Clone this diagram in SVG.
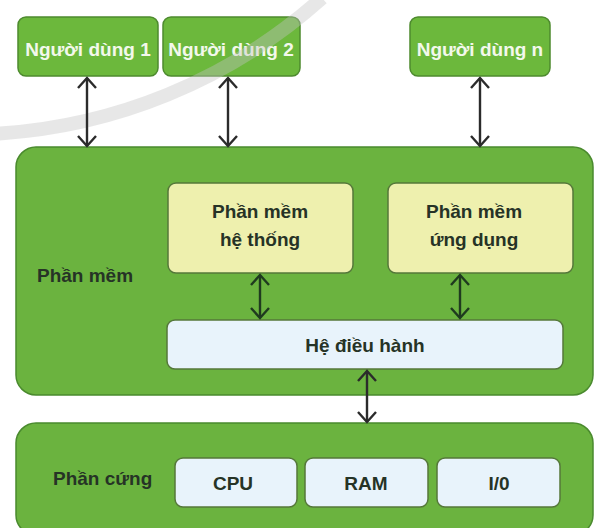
<svg xmlns="http://www.w3.org/2000/svg" width="595" height="528" viewBox="0 0 595 528">
<style>
.user{fill:#6cb83c;stroke:#4d8a2e;stroke-width:1.5}
.big{fill:#6bb33f;stroke:#4a8a2e;stroke-width:1.5}
.soft{fill:#eef0ae;stroke:#55783a;stroke-width:1.5}
.blue{fill:#e8f3fb;stroke:#55783a;stroke-width:1.5}
text{font-family:"Liberation Sans",Arial,sans-serif;font-weight:bold;font-size:19px;text-anchor:middle}
.wt{fill:#f3f8ec}
.dk{fill:#263326}
.lbl{text-anchor:start}
.con{fill:none;stroke:#2b2b2b;stroke-width:2.4}
.con2{fill:none;stroke:#1f3a1f;stroke-width:2.4}
</style>
<defs>
<marker id="ah" viewBox="0 0 20 20" refX="18" refY="10" markerWidth="20" markerHeight="20" markerUnits="userSpaceOnUse" orient="auto-start-reverse">
<path d="M8,1 L18,10 L8,19" fill="none" stroke="#2b2b2b" stroke-width="2.4"/>
</marker>
<marker id="ah2" viewBox="0 0 20 20" refX="18" refY="10" markerWidth="20" markerHeight="20" markerUnits="userSpaceOnUse" orient="auto-start-reverse">
<path d="M8,1 L18,10 L8,19" fill="none" stroke="#1f3a1f" stroke-width="2.4"/>
</marker>
</defs>
<rect width="595" height="528" fill="#ffffff"/>

<g id="phan-mem">
<rect class="big" x="16" y="147" width="577" height="248" rx="20"/>
<text class="dk lbl" x="37" y="282">Phần mềm</text>
</g>
<g id="phan-cung">
<rect class="big" x="16" y="423" width="577" height="112" rx="20"/>
<text class="dk lbl" x="53" y="485">Phần cứng</text>
</g>

<g id="nguoi-dung-1">
<rect class="user" x="18" y="17" width="140" height="59" rx="8"/>
<text class="wt" x="88" y="56">Người dùng 1</text>
</g>
<g id="nguoi-dung-2">
<rect class="user" x="163" y="17" width="137" height="59" rx="8"/>
<text class="wt" x="231" y="56">Người dùng 2</text>
</g>
<g id="nguoi-dung-n">
<rect class="user" x="410" y="17" width="140" height="59" rx="8"/>
<text class="wt" x="480" y="56">Người dùng n</text>
</g>

<path d="M -10 134 A 536 536 0 0 0 322 -2" fill="none" stroke="#c4c4c4" stroke-width="14" opacity="0.4"/>

<g id="pm-he-thong">
<rect class="soft" x="168" y="183" width="185" height="90" rx="8"/>
<text class="dk" x="260" y="218">Phần mềm</text>
<text class="dk" x="260" y="246">hệ thống</text>
</g>
<g id="pm-ung-dung">
<rect class="soft" x="388" y="183" width="185" height="90" rx="8"/>
<text class="dk" x="474" y="218">Phần mềm</text>
<text class="dk" x="474" y="246">ứng dụng</text>
</g>
<g id="he-dieu-hanh">
<rect class="blue" x="167" y="320" width="396" height="49" rx="8"/>
<text class="dk" x="365" y="352">Hệ điều hành</text>
</g>

<g id="cpu">
<rect class="blue" x="175" y="458" width="122" height="49" rx="8"/>
<text class="dk" x="233" y="490">CPU</text>
</g>
<g id="ram">
<rect class="blue" x="305" y="458" width="123" height="49" rx="8"/>
<text class="dk" x="366" y="490">RAM</text>
</g>
<g id="io">
<rect class="blue" x="437" y="458" width="123" height="49" rx="8"/>
<text class="dk" x="499" y="490">I/0</text>
</g>

<g id="connectors">
<line class="con" x1="87" y1="78" x2="87" y2="146" marker-start="url(#ah)" marker-end="url(#ah)"/>
<line class="con" x1="228" y1="78" x2="228" y2="146" marker-start="url(#ah)" marker-end="url(#ah)"/>
<line class="con" x1="480" y1="78" x2="480" y2="146" marker-start="url(#ah)" marker-end="url(#ah)"/>
<line class="con2" x1="260" y1="275" x2="260" y2="318" marker-start="url(#ah2)" marker-end="url(#ah2)"/>
<line class="con2" x1="460" y1="275" x2="460" y2="318" marker-start="url(#ah2)" marker-end="url(#ah2)"/>
<line class="con" x1="367" y1="371" x2="367" y2="422" marker-start="url(#ah)" marker-end="url(#ah)"/>
</g>
</svg>
